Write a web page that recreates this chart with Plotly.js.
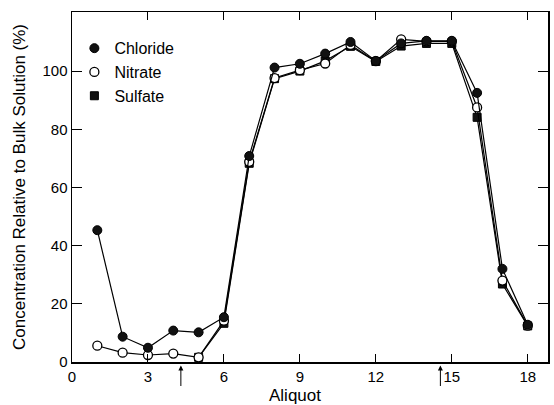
<!DOCTYPE html>
<html><head><meta charset="utf-8">
<script src="https://cdn.plot.ly/plotly-3.0.1.min.js"></script>
<style>html,body{margin:0;padding:0;background:#fff;}#chart{width:554px;height:405px;}</style>
</head><body><div id="chart"></div>
<script>
var aliquotsAll = [1,2,3,4,5,6,7,8,9,10,11,12,13,14,15,16,17,18];
var chloride = [45.3,8.7,4.9,10.8,10.2,15.4,70.8,101.2,102.5,106,110,103.5,109.5,110.4,110.4,92.5,32,12.8];
var nitrate  = [5.6,3.2,2.4,2.9,1.6,14.2,68.8,97.6,100.3,102.6,109,103.4,110.9,110.2,110.2,87.5,28,12.5];
var sulfateX = [5,6,7,8,9,10,11,12,13,14,15,16,17,18];
var sulfate  = [1.6,13.3,68.3,97.4,100,103.5,108.5,103.3,108.6,109.5,109.5,84.1,26.8,12.4];
var xTicks = [0,3,6,9,12,15,18];
var yTicks = [0,20,40,60,80,100];
var arrowPositions = [4.3,14.55];

var fam = 'Liberation Sans, Arial, sans-serif';
var tickFont = {family:fam, size:15, color:'#000'};
var titleFont = {family:fam, size:17, color:'#000'};
var mk = {
  chloride:{symbol:'circle',size:9,color:'#111',line:{color:'#000',width:1}},
  nitrate:{symbol:'circle',size:9,color:'#fff',line:{color:'#000',width:1.3}},
  sulfate:{symbol:'square',size:8,color:'#111',line:{color:'#000',width:1}}
};
var ln = {color:'#000',width:1.2};
var traces = [
 {x:sulfateX, y:sulfate, name:'Sulfate', mode:'lines+markers', type:'scatter', line:ln, marker:mk.sulfate, showlegend:false},
 {x:aliquotsAll, y:nitrate, name:'Nitrate', mode:'lines+markers', type:'scatter', line:ln, marker:mk.nitrate, showlegend:false},
 {x:aliquotsAll, y:chloride, name:'Chloride', mode:'lines+markers', type:'scatter', line:ln, marker:mk.chloride, showlegend:false},
 {x:[null], y:[null], name:'Chloride', mode:'markers', type:'scatter', marker:mk.chloride, legendrank:1},
 {x:[null], y:[null], name:'Nitrate', mode:'markers', type:'scatter', marker:mk.nitrate, legendrank:2},
 {x:[null], y:[null], name:'Sulfate', mode:'markers', type:'scatter', marker:mk.sulfate, legendrank:3}
];
var annotations = arrowPositions.map(function(p){
  return {x:p, y:-0.01, xref:'x', yref:'paper', ax:0, ay:22, showarrow:true,
    arrowhead:2, arrowsize:1, arrowwidth:1, arrowcolor:'#000', text:''};
});
annotations.push({x:8.8, y:-0.095, xref:'x', yref:'paper', text:'Aliquot', showarrow:false,
  yanchor:'middle', font:titleFont});
var layout = {
  width:554, height:405,
  margin:{l:72, r:6, t:12, b:43},
  paper_bgcolor:'#fff', plot_bgcolor:'#fff',
  font:tickFont,
  showlegend:true,
  legend:{x:0.005, y:0.945, xanchor:'left', yanchor:'top', traceorder:'normal',
    font:{family:fam, size:16, color:'#000'},
    bgcolor:'rgba(0,0,0,0)', itemwidth:30, tracegroupgap:0},
  xaxis:{range:[0,18.8], tickvals:xTicks, ticktext:xTicks.map(String), ticks:'inside', ticklen:8,
    tickcolor:'#000', showline:true, linecolor:'#000', linewidth:1.5, mirror:'ticks',
    showgrid:false, zeroline:false, tickfont:tickFont},
  yaxis:{range:[0,120.3], tickvals:yTicks, ticktext:yTicks.map(String), ticks:'inside', ticklen:10,
    tickcolor:'#000', showline:true, linecolor:'#000', linewidth:1.5, mirror:'ticks',
    showgrid:false, zeroline:false, tickfont:tickFont,
    title:{text:'Concentration Relative to Bulk Solution (%)', font:titleFont, standoff:12}},
  annotations:annotations
};
Plotly.newPlot('chart', traces, layout, {displayModeBar:false, staticPlot:true});
</script></body></html>
